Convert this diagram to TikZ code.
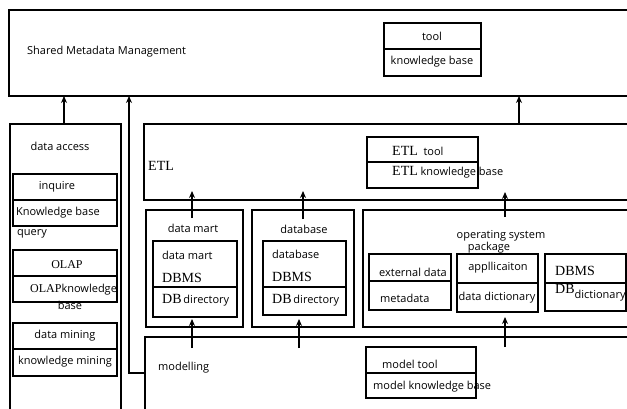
\documentclass[tikz,border=0pt]{standalone}
\usepackage{fontspec}
\setmainfont{Open Sans}
\newfontfamily\serifA{Liberation Serif}
\usetikzlibrary{fit,arrows.meta,calc}
\newcommand\srf[1]{{\serifA\fontsize{14}{14}\selectfont #1}}
\newcommand\srs[1]{{\serifA\fontsize{12}{12}\selectfont #1}}
\begin{document}
\begin{tikzpicture}[x=1pt,y=-1pt,
 box/.style={draw, line width=1.6pt, inner sep=0pt, outer sep=0pt},
 dv/.style={line width=1.5pt},
 lbl/.style={inner sep=0pt, font=\fontsize{11}{13}\selectfont},
 arr/.style={line width=1.1pt, -{Stealth[length=7pt,width=6pt]}}]
\useasboundingbox (0,0) rectangle (627,408);
\clip (0,0) rectangle (627,408);
% big boxes
\node[box, line width=1.8pt, fit={(9,10) (645,96)}] (smm) {};
\node[box, fit={(10,124) (121,420)}] (da) {};
\node[box, fit={(144,124) (645,200)}] (etl) {};
\node[box, fit={(146,210) (243,327)}] (dmo) {};
\node[box, fit={(252,210) (354,327)}] (dbo) {};
\node[box, fit={(363,210) (645,327)}] (os) {};
\node[box, fit={(145,337) (645,420)}] (mod) {};
% inner boxes
\node[box, fit={(384,23) (481,76)}] (tool) {};
\draw[dv] (tool.west |- 0,49) -- (tool.east |- 0,49);
\node[box, fit={(367,137) (478,188)}] (etlt) {};
\draw[dv] (etlt.west |- 0,162) -- (etlt.east |- 0,162);
\node[box, fit={(153,241) (237,317)}] (dmi) {};
\draw[dv] (dmi.west |- 0,287) -- (dmi.east |- 0,287);
\node[box, fit={(263,241) (346,315)}] (dbi) {};
\draw[dv] (dbi.west |- 0,287) -- (dbi.east |- 0,287);
\node[box, fit={(369,254) (451,310)}] (ext) {};
\draw[dv] (ext.west |- 0,281) -- (ext.east |- 0,281);
\node[box, fit={(457,254) (538,312)}] (app) {};
\draw[dv] (app.west |- 0,283) -- (app.east |- 0,283);
\node[box, fit={(545,254) (626,311)}] (dbms) {};
\draw[dv] (dbms.west |- 0,283) -- (dbms.east |- 0,283);
\node[box, fit={(366,347) (476,398)}] (mt) {};
\draw[dv] (mt.west |- 0,373) -- (mt.east |- 0,373);
\node[box, fit={(13,174) (117,226)}] (inq) {};
\draw[dv] (inq.west |- 0,200) -- (inq.east |- 0,200);
\node[box, fit={(13,250) (117,302)}] (olap) {};
\draw[dv] (olap.west |- 0,276) -- (olap.east |- 0,276);
\node[box, fit={(13,323) (117,376)}] (dmin) {};
\draw[dv] (dmin.west |- 0,349) -- (dmin.east |- 0,349);
% labels
\node[lbl, anchor=west] (t1) at (27,52) {Shared Metadata Management};
\node[lbl] (t2) at (432,36) {tool};
\node[lbl] (t3) at (432,62) {knowledge base};
\node[lbl] (t4) at (60,146) {data access};
\node[lbl] (t5) at (57,187) {inquire};
\node[lbl, anchor=west] (t6) at (16,213) {Knowledge base};
\node[lbl, anchor=west] (t7) at (17,234) {query};
\node[lbl] (t8) at (67,265) {\srs{OLAP}};
\node[lbl, anchor=west] (t9) at (30,290) {\srs{OLAP}knowledge};
\node[lbl] (t10) at (70,305) {base};
\node[lbl] (t11) at (65,336) {data mining};
\node[lbl] (t12) at (65,362) {knowledge mining};
\node[lbl, anchor=west] (t13) at (148,166) {\srf{ETL}};
\node[lbl, anchor=west] (t14) at (392,151) {\srf{ETL}\ \ tool};
\node[lbl, anchor=west] (t15) at (392,172) {\srf{ETL} knowledge base};
\node[lbl] (t16) at (193,228) {data mart};
\node[lbl, anchor=west] (t17) at (162,255) {data mart};
\node[lbl, anchor=west] (t18) at (162,278) {\srf{DBMS}};
\node[lbl, anchor=west] (t19) at (162,300) {\srf{DB}\,directory};
\node[lbl] (t20) at (304,229) {database};
\node[lbl, anchor=west] (t21) at (272,254) {database};
\node[lbl, anchor=west] (t22) at (272,277) {\srf{DBMS}};
\node[lbl, anchor=west] (t23) at (272,300) {\srf{DB}\,directory};
\node[lbl] (t24) at (501,236) {operating system};
\node[lbl] (t25) at (489,248) {package};
\node[lbl] (t26) at (413,272) {external data};
\node[lbl, anchor=west] (t27) at (380,298) {metadata};
\node[lbl] (t28) at (498,268) {appllicaiton};
\node[lbl] (t29) at (497,298) {data dictionary};
\node[lbl, anchor=west] (t30) at (555,271) {\srf{DBMS}};
\node[lbl, anchor=west] (t31) at (555,293) {\srf{DB}\raisebox{-5pt}{dictionary}};
\node[lbl, anchor=west] (t32) at (158,368) {modelling};
\node[lbl, anchor=west] (t33) at (382,364) {model tool};
\node[lbl, anchor=west] (t34) at (373,387) {model knowledge base};
% arrows
\coordinate (x1) at (64,0);
\coordinate (x2) at (129,0);
\coordinate (x3) at (519,0);
\coordinate (x4) at (192,0);
\coordinate (x5) at (303,0);
\coordinate (x6) at (505,0);
\coordinate (x7) at (299,0);
\draw[arr] (x1 |- da.north) -- (x1 |- smm.south);
\draw[arr] ($(mod.north west)+(0,36)$) -| (x2 |- smm.south);
\draw[arr] (x3 |- etl.north) -- (x3 |- smm.south);
\draw[arr] ($(x4 |- dmo.north)+(0,8)$) -- ($(x4 |- etl.south)+(0,-9)$);
\draw[arr] ($(x5 |- dbo.north)+(0,9)$) -- ($(x5 |- etl.south)+(0,-9)$);
\draw[arr] ($(x6 |- os.north)+(0,7)$) -- ($(x6 |- etl.south)+(0,-8)$);
\draw[arr] ($(x4 |- mod.north)+(0,11)$) -- ($(x4 |- dmi.south)+(0,2)$);
\draw[arr] ($(x7 |- mod.north)+(0,11)$) -- ($(x7 |- dbi.south)+(0,4)$);
\draw[arr] ($(x6 |- mod.north)+(0,10)$) -- ($(x6 |- app.south)+(0,5)$);
\end{tikzpicture}
\end{document}
